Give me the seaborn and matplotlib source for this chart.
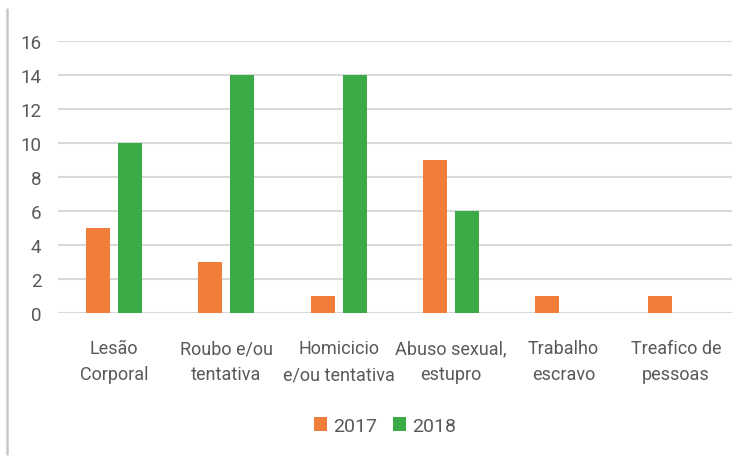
import matplotlib
matplotlib.use("Agg")
import matplotlib.pyplot as plt
from matplotlib.lines import Line2D
from matplotlib.patches import Patch
import pandas as pd
import seaborn as sns

# Ocorrências por tipo de crime, 2017 x 2018
categorias = [
    "Lesão\nCorporal",
    "Roubo e/ou\ntentativa",
    "Homicicio\ne/ou tentativa",
    "Abuso sexual,\nestupro",
    "Trabalho\nescravo",
    "Treafico de\npessoas",
]
anos = ["2017", "2018"]
valores_2017 = [5, 3, 1, 9, 1, 1]
valores_2018 = [10, 14, 14, 6, 0, 0]
ticks_y = [0, 2, 4, 6, 8, 10, 12, 14, 16]

cores = {"2017": "#F07E3A", "2018": "#3DAA48"}
cor_texto = "#595959"
cor_grade = "#D9D9D9"

df = pd.DataFrame({
    "categoria": categorias * 2,
    "ano": [anos[0]] * len(categorias) + [anos[1]] * len(categorias),
    "valor": valores_2017 + valores_2018,
})

sns.set_theme(style="white")
plt.rcParams["font.family"] = ["Roboto", "DejaVu Sans"]

fig = plt.figure(figsize=(7.46, 4.60), dpi=100)
ax = fig.add_axes([0.0777, 0.3174, 0.9035, 0.5913])

sns.barplot(
    data=df, x="categoria", y="valor", hue="ano", order=categorias,
    hue_order=anos, palette=cores, width=0.57, gap=0.25,
    linewidth=0, saturation=1, legend=False, ax=ax, zorder=3,
)

ax.set_ylim(0, 16)
ax.set_xlim(-0.5, len(categorias) - 0.5)
ax.set_yticks(ticks_y)
ax.set_yticklabels([str(t) for t in ticks_y])
ax.yaxis.grid(True, color=cor_grade, linewidth=1.5)
ax.set_axisbelow(True)
for s in ax.spines.values():
    s.set_visible(False)
ax.set_xlabel("")
ax.set_ylabel("")
ax.tick_params(axis="y", length=0, pad=12, labelsize=13.5, labelcolor=cor_texto)
ax.tick_params(axis="x", length=0, pad=19, labelsize=13, labelcolor=cor_texto)
plt.setp(ax.get_xticklabels(), linespacing=1.55)

handles = [Patch(facecolor=cores[a], edgecolor="none", label=a) for a in anos]
fig.legend(
    handles=handles, loc="center", bbox_to_anchor=(0.516, 0.072), ncol=2,
    frameon=False, fontsize=14, handlelength=0.7, handleheight=0.7,
    handletextpad=0.3, columnspacing=0.8, labelcolor=cor_texto,
)

# filete vertical à esquerda da figura
fig.add_artist(Line2D([0.0094, 0.0094], [1 - 10 / 460, 1 - 455 / 460],
                      transform=fig.transFigure, color="#C8C8C8", linewidth=1.8))

fig.savefig("out.png", dpi=100, facecolor="white")
